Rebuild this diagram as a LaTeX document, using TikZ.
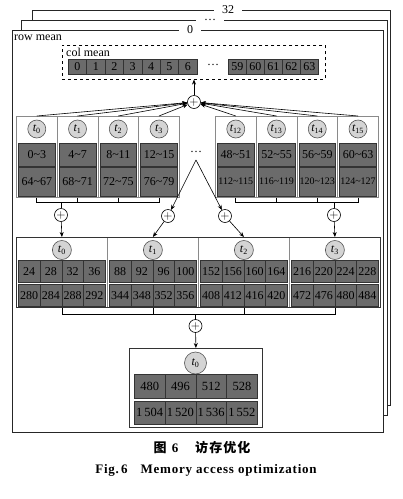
\documentclass[tikz,border=0pt]{standalone}
\usepackage{fontspec}
\setmainfont{Liberation Serif}
\newfontfamily\cjk{Noto Sans CJK SC}
\usetikzlibrary{arrows.meta,calc}
\definecolor{cellgray}{HTML}{6B6B6B}
\definecolor{celledge}{HTML}{333333}
\definecolor{circfill}{HTML}{D4D4D4}
\definecolor{circedge}{HTML}{555555}
\definecolor{coledge}{HTML}{8A8A8A}
\newcommand\tld{\textasciitilde}
\newcommand\tsub[1]{{\itshape t}\textsubscript{#1}}
\tikzset{
  framebox/.style={draw=black!85, fill=white, line width=0.7pt, inner sep=0pt, anchor=north west},
  framelab/.style={fill=white, inner xsep=8pt, inner ysep=1pt, font=\fontsize{12}{12}\selectfont},
  cell/.style={draw=celledge, fill=cellgray, line width=0.5pt, inner sep=0pt, text=black, font=\fontsize{12}{12}\selectfont},
  tcirc/.style={circle, draw=circedge, fill=circfill, line width=0.6pt, inner sep=0pt, minimum size=18pt, font=\fontsize{12}{12}\selectfont},
  plusnode/.style={circle, draw=black, fill=white, line width=0.6pt, inner sep=0pt, minimum size=13pt, font=\fontsize{11.5}{11.5}\selectfont},
  colbox/.style={draw=coledge, fill=white, line width=0.8pt, inner sep=0pt, anchor=north west},
  arr/.style={-{Stealth[length=5pt,width=4pt]}, line width=0.6pt},
  ln/.style={line width=0.6pt},
}
\begin{document}
\begin{tikzpicture}[x=1pt,y=-1pt,font=\fontsize{12}{12}\selectfont]
\useasboundingbox (0,0) rectangle (403,499);

% stacked frames
\node[framebox, minimum width=358pt, minimum height=395pt] (f32) at (32,10) {};
\node[framelab] (l32) at (228,10) {32};
\node[framebox, minimum width=366pt, minimum height=395pt] (f1) at (21,20) {};
\node[framelab] (l1) at (210,20) {\dots};
\node[framebox, minimum width=371pt, minimum height=402pt] (f0) at (12,30) {};
\node[framelab] (l0) at (190,30) {0};
\node[anchor=west, inner sep=0pt] (rowmean) at (14,38) {row mean};

% col mean box
\node[draw, dashed, line width=0.6pt, inner sep=0pt, anchor=north west, minimum width=263pt, minimum height=34pt] (cmbox) at (62,45) {};
\node[anchor=west, inner sep=0pt] (colmean) at (66,52.5) {col mean};
\foreach \i in {0,...,6} {
  \node[cell, anchor=north west, minimum width=18.4pt, minimum height=15pt] (cm\i) at (68+18.4*\i,59) {\i};
}
\node (cmdots) at (213,65) {\dots};
\foreach \i in {59,...,63} {
  \node[cell, anchor=north west, minimum width=18pt, minimum height=15pt] (cm\i) at (228+18*\i-18*59,59) {\i};
}

% top plus
\node[plusnode] (P0) at (194,102) {$+$};
\draw[arr] (P0) -- (P0 |- cmbox.south);

% upper left group
\foreach \lab/\xa/\xb [count=\n from 0] in {0/0\tld3/64\tld67, 1/4\tld7/68\tld71, 2/8\tld11/72\tld75, 3/12\tld15/76\tld79} {
  \node[colbox, minimum width=40.75pt, minimum height=81pt] (uc\lab) at (16+40.75*\n,116) {};
  \node[tcirc] (ut\lab) at ($(uc\lab.north)+(0,13)$) {\tsub{\lab}};
  \node[cell, anchor=north, minimum width=36.75pt, minimum height=23pt] (ua\lab) at ($(uc\lab.north)+(0,27)$) {\xa};
  \node[cell, anchor=north, minimum width=36.75pt, minimum height=29pt] (ub\lab) at (ua\lab.south) {\xb};
}
% upper right group
\foreach \lab/\xa/\xb [count=\n from 0] in {12/48\tld51/112\tld115, 13/52\tld55/116\tld119, 14/56\tld59/120\tld123, 15/60\tld63/124\tld127} {
  \node[colbox, minimum width=40.75pt, minimum height=81pt] (uc\lab) at (215+40.75*\n,116) {};
  \node[tcirc] (ut\lab) at ($(uc\lab.north)+(0,13)$) {\tsub{\lab}};
  \node[cell, anchor=north, minimum width=36.75pt, minimum height=23pt] (ua\lab) at ($(uc\lab.north)+(0,27)$) {\xa};
  \node[cell, anchor=north, minimum width=36.75pt, minimum height=29pt, font=\fontsize{10}{10}\selectfont] (ub\lab) at (ua\lab.south) {\xb};
}
% converging arrows to top plus
\foreach \i in {0,1,2,3,12,13,14,15} {
  \draw[arr] (uc\i.north) -- (P0);
}

% brackets under upper groups
\coordinate (brU) at (0,202);
\draw[ln] (uc0.south) -- (uc0.south |- brU) -- (uc3.south |- brU) -- (uc3.south);
\draw[ln] (uc1.south) -- (uc1.south |- brU);
\draw[ln] (uc2.south) -- (uc2.south |- brU);
\draw[ln] (uc12.south) -- (uc12.south |- brU) -- (uc15.south |- brU) -- (uc15.south);
\draw[ln] (uc13.south) -- (uc13.south |- brU);
\draw[ln] (uc14.south) -- (uc14.south |- brU);

\node[plusnode] (PL) at (61,215) {$+$};
\node[plusnode] (PR) at (334,215) {$+$};
\node[plusnode] (PM1) at (168,216) {$+$};
\node[plusnode] (PM2) at (225,216) {$+$};
\draw[ln] (PL) -- (PL |- brU);
\draw[ln] (PR) -- (PR |- brU);
\node (mdots) at (196,152) {\dots};
\coordinate (msrc) at (196,160);
\draw[arr] (msrc) -- (PM1);
\draw[arr] (msrc) -- (PM2);

% lower group
\foreach \lab/\pa/\pb/\pc/\pd/\qa/\qb/\qc/\qd [count=\n from 0] in {0/24/28/32/36/280/284/288/292, 1/88/92/96/100/344/348/352/356, 2/152/156/160/164/408/412/416/420, 3/216/220/224/228/472/476/480/484} {
  \node[colbox, minimum width=91pt, minimum height=70pt] (lb\lab) at (16+91*\n,237) {};
  \node[tcirc, minimum size=19pt] (lt\lab) at ($(lb\lab.north)+(0,13)$) {\tsub{\lab}};
  \foreach \xv/\xw [count=\m from 0] in {\pa/\qa,\pb/\qb,\pc/\qc,\pd/\qd} {
    \node[cell, anchor=north west, minimum width=21.75pt, minimum height=22pt] (la\lab-\m) at (18+91*\n+21.75*\m,260) {\xv};
    \node[cell, anchor=north west, minimum width=21.75pt, minimum height=22pt] (lc\lab-\m) at (18+91*\n+21.75*\m,284) {\xw};
  }
}
\draw[line width=0.7pt, draw=black!80] (lb0.north west) rectangle (lb3.south east);

\draw[arr] (PL) -- (lb0.north);
\draw[arr] (PM1) -- (lb1.north);
\draw[arr] (PM2) -- (lb2.north);
\draw[arr] (PR) -- (lb3.north);

% bracket under lower group
\coordinate (brL) at (0,314);
\draw[ln] (lb0.south) -- (lb0.south |- brL) -- (lb3.south |- brL) -- (lb3.south);
\draw[ln] (lb1.south) -- (lb1.south |- brL);
\draw[ln] (lb2.south) -- (lb2.south |- brL);
\node[plusnode] (PB) at (195.5,326) {$+$};
\draw[ln] (PB) -- (PB |- brL);

% final box
\node[colbox, draw=black!80, minimum width=133pt, minimum height=79pt] (fb) at (129,348) {};
\node[tcirc, minimum size=22pt] (ft) at (195.5,363) {\tsub{0}};
\foreach \xv/\xw [count=\m from 0] in {480/1\,504, 496/1\,520, 512/1\,536, 528/1\,552} {
  \node[cell, anchor=north west, minimum width=30.75pt, minimum height=24pt, font=\fontsize{12.5}{12.5}\selectfont] (fa\m) at (134+30.75*\m,374) {\xv};
  \node[cell, anchor=north west, minimum width=30.75pt, minimum height=23pt, font=\fontsize{12.5}{12.5}\selectfont] (fc\m) at (134+30.75*\m,401) {\xw};
}
\draw[arr] (PB) -- (fb.north);

% caption
\node[font=\bfseries\fontsize{13}{13}\selectfont] (cap1) at (202,448) {{\cjk 图}\hspace{0.4em}6\hspace{1.3em}{\cjk\addfontfeature{LetterSpace=8}访存优化}};
\node[font=\bfseries\fontsize{13}{13}\selectfont] (cap2) at (206,470) {\addfontfeature{LetterSpace=6}Fig.\,6\hspace{1em}Memory access optimization};
\end{tikzpicture}
\end{document}
